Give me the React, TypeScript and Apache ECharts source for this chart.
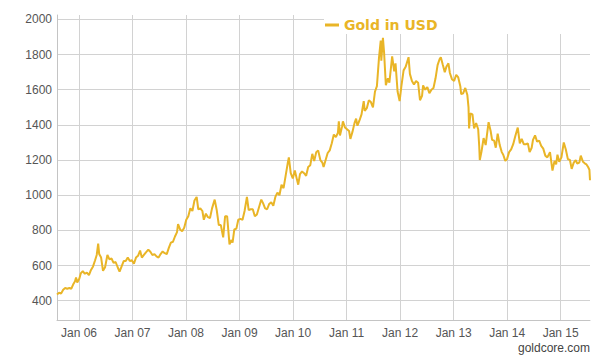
import React, { useEffect, useRef } from 'react';
import * as echarts from 'echarts';

const seriesName = 'Gold in USD';
const sourceText = 'goldcore.com';
const axisStart = [2005, 7, 4];
const axisEnd = [2015, 6, 20];
const yMin = 290;
const yMax = 2025;
const yLabelStep = 200;

const dates = [
  '2005-08-04','2005-08-18','2005-09-01','2005-09-15','2005-09-29','2005-10-13','2005-10-27','2005-11-10','2005-11-24','2005-12-05','2005-12-12','2005-12-20',
  '2006-01-03','2006-01-13','2006-01-27','2006-02-10','2006-02-24','2006-03-10','2006-03-24','2006-04-07','2006-04-21','2006-05-02','2006-05-12','2006-05-19','2006-06-01','2006-06-14','2006-06-28','2006-07-14','2006-07-28','2006-08-11','2006-08-25','2006-09-08','2006-09-22','2006-10-05','2006-10-19','2006-11-02','2006-11-16','2006-11-30','2006-12-14','2006-12-28',
  '2007-01-11','2007-01-25','2007-02-08','2007-02-22','2007-03-06','2007-03-20','2007-04-03','2007-04-19','2007-05-03','2007-05-17','2007-05-31','2007-06-14','2007-06-28','2007-07-12','2007-07-26','2007-08-09','2007-08-23','2007-09-06','2007-09-20','2007-10-04','2007-10-18','2007-11-01','2007-11-08','2007-11-22','2007-12-06','2007-12-20',
  '2008-01-03','2008-01-17','2008-01-31','2008-02-14','2008-02-28','2008-03-14','2008-03-25','2008-04-08','2008-04-22','2008-05-02','2008-05-16','2008-05-30','2008-06-13','2008-06-27','2008-07-15','2008-07-29','2008-08-12','2008-08-26','2008-09-11','2008-09-24','2008-10-08','2008-10-16','2008-10-24','2008-11-07','2008-11-14','2008-11-26','2008-12-10','2008-12-23',
  '2009-01-07','2009-01-21','2009-02-04','2009-02-20','2009-03-04','2009-03-18','2009-04-01','2009-04-15','2009-04-29','2009-05-13','2009-05-29','2009-06-10','2009-06-24','2009-07-08','2009-07-22','2009-08-05','2009-08-19','2009-09-02','2009-09-16','2009-09-30','2009-10-14','2009-10-28','2009-11-11','2009-11-25','2009-12-03','2009-12-16','2009-12-30',
  '2010-01-13','2010-01-27','2010-02-05','2010-02-17','2010-03-03','2010-03-17','2010-03-31','2010-04-14','2010-04-28','2010-05-12','2010-05-25','2010-06-08','2010-06-21','2010-07-06','2010-07-20','2010-07-28','2010-08-11','2010-08-25','2010-09-08','2010-09-22','2010-10-06','2010-10-20','2010-11-03','2010-11-09','2010-11-17','2010-12-01','2010-12-07','2010-12-21',
  '2011-01-04','2011-01-18','2011-01-27','2011-02-10','2011-02-24','2011-03-07','2011-03-16','2011-03-30','2011-04-13','2011-04-28','2011-05-05','2011-05-19','2011-06-02','2011-06-16','2011-06-30','2011-07-14','2011-07-27','2011-08-10','2011-08-22','2011-08-26','2011-09-06','2011-09-14','2011-09-26','2011-10-10','2011-10-20','2011-11-08','2011-11-22','2011-12-01','2011-12-15','2011-12-29',
  '2012-01-10','2012-01-25','2012-02-08','2012-02-28','2012-03-08','2012-03-22','2012-04-05','2012-04-19','2012-05-03','2012-05-16','2012-05-30','2012-06-06','2012-06-20','2012-07-05','2012-07-19','2012-08-02','2012-08-16','2012-08-30','2012-09-13','2012-09-27','2012-10-05','2012-10-19','2012-11-01','2012-11-12','2012-11-26','2012-12-06','2012-12-20',
  '2013-01-04','2013-01-18','2013-02-01','2013-02-15','2013-02-21','2013-03-07','2013-03-21','2013-04-04','2013-04-12','2013-04-16','2013-04-25','2013-05-09','2013-05-20','2013-06-03','2013-06-17','2013-06-24','2013-06-28','2013-07-10','2013-07-24','2013-08-07','2013-08-27','2013-09-10','2013-09-20','2013-10-04','2013-10-15','2013-10-28','2013-11-11','2013-11-25','2013-12-05','2013-12-19','2013-12-31',
  '2014-01-14','2014-01-28','2014-02-11','2014-02-25','2014-03-14','2014-03-28','2014-04-10','2014-04-24','2014-05-08','2014-05-22','2014-06-03','2014-06-17','2014-06-26','2014-07-10','2014-07-24','2014-08-07','2014-08-21','2014-09-04','2014-09-18','2014-10-02','2014-10-20','2014-11-06','2014-11-20','2014-12-01','2014-12-10','2014-12-22',
  '2015-01-06','2015-01-22','2015-02-05','2015-02-19','2015-03-05','2015-03-17','2015-03-31','2015-04-14','2015-04-24','2015-05-08','2015-05-18','2015-06-02','2015-06-16','2015-06-26','2015-07-07','2015-07-16','2015-07-20'
];

const prices = [
  435,445,440,462,472,468,472,468,495,510,532,503,
  525,555,568,553,560,545,575,595,630,660,725,665,645,570,590,660,635,640,615,620,590,565,595,625,625,645,625,630,
  610,645,655,685,645,660,675,690,678,660,665,652,645,665,680,670,665,700,730,735,765,790,835,805,795,815,
  860,880,925,910,970,990,920,925,910,860,895,875,870,925,975,915,830,830,760,880,880,800,720,745,730,805,810,860,
  865,860,910,990,915,920,920,880,890,930,975,955,925,920,950,960,940,990,1015,1000,1060,1040,1110,1180,1215,1125,1095,
  1140,1090,1060,1120,1135,1125,1110,1160,1170,1235,1195,1245,1255,1200,1185,1160,1200,1240,1255,1295,1345,1330,1355,1420,1340,1390,1420,1385,
  1375,1365,1320,1360,1410,1435,1395,1425,1460,1535,1480,1495,1540,1530,1500,1590,1620,1780,1880,1765,1895,1810,1625,1665,1640,1790,1705,1750,1590,1535,
  1620,1710,1730,1785,1690,1650,1630,1650,1640,1540,1565,1625,1600,1615,1580,1600,1610,1665,1740,1775,1785,1740,1700,1730,1750,1695,1660,
  1650,1685,1670,1620,1575,1580,1610,1570,1500,1380,1465,1460,1380,1410,1375,1280,1200,1250,1325,1285,1415,1365,1315,1310,1270,1350,1285,1245,1230,1195,1205,
  1245,1260,1290,1335,1385,1295,1320,1290,1290,1295,1245,1270,1315,1340,1305,1310,1280,1265,1225,1215,1245,1140,1195,1175,1230,1190,
  1215,1300,1260,1205,1200,1150,1185,1200,1180,1185,1225,1190,1180,1175,1160,1145,1085
];

export default function App() {
  const ref = useRef<HTMLDivElement>(null);
  useEffect(() => {
    if (!ref.current) return;
    const chart = echarts.init(ref.current, null, { renderer: 'svg' });
    const gold = '#E9B527';
    const gridColor = '#d2d2d2';
    const axisColor = '#c4c4c4';
    const textColor = '#555555';
    const font = 'Liberation Sans';
    const yStep = 10;
    const cycle = yLabelStep / yStep;
    const firstIdx = (Math.ceil(yMin / yLabelStep) * yLabelStep - yMin) / yStep;
    const yGridColors = Array.from({ length: cycle }, (_, i) => (i === firstIdx % cycle ? gridColor : 'rgba(0,0,0,0)'));
    const minT = new Date(axisStart[0], axisStart[1], axisStart[2]).getTime();
    const maxT = new Date(axisEnd[0], axisEnd[1], axisEnd[2]).getTime();
    const day = 86400000;

    chart.setOption({
      animation: false,
      backgroundColor: '#ffffff',
      grid: { left: 57, right: 17, top: 15, bottom: 41 },
      legend: {
        show: true,
        data: [seriesName],
        left: 325,
        top: 18,
        padding: 0,
        icon: 'rect',
        itemWidth: 14,
        itemHeight: 3,
        textStyle: { color: gold, fontSize: 14, fontWeight: 'bold', fontFamily: 'DejaVu Sans' },
      },
      xAxis: {
        type: 'time',
        min: minT,
        max: maxT,
        minInterval: 365 * day,
        maxInterval: 366 * day,
        axisLine: { show: true, lineStyle: { color: axisColor } },
        axisTick: { show: false },
        splitLine: { show: true, showMaxLine: false, lineStyle: { color: gridColor, width: 1 } },
        axisLabel: {
          color: textColor,
          fontSize: 12,
          fontFamily: font,
          margin: 7,
          formatter: (value: number) => {
            const d = new Date(value);
            if (d.getMonth() === 0 && d.getDate() === 1) {
              return 'Jan ' + String(d.getFullYear()).slice(2);
            }
            return '';
          },
        },
      },
      yAxis: {
        type: 'value',
        min: yMin,
        max: yMax,
        interval: yStep,
        axisLine: { show: true, lineStyle: { color: axisColor } },
        axisTick: { show: false },
        splitLine: { show: true, lineStyle: { color: yGridColors, width: 1 } },
        axisLabel: {
          color: textColor,
          fontSize: 12,
          fontFamily: font,
          margin: 5,
          formatter: (v: number) => {
            const r = Math.round(v);
            return r % yLabelStep === 0 ? String(r) : '';
          },
        },
      },
      graphic: [
        {
          type: 'rect',
          left: 324,
          top: 6,
          z: 1,
          silent: true,
          shape: { width: 266, height: 28 },
          style: { fill: '#ffffff' },
        },
        {
          type: 'text',
          right: 17,
          top: 342,
          z: 5,
          style: { text: sourceText, fill: '#444444', font: '12px "Liberation Sans"' },
        },
      ],
      series: [
        {
          name: seriesName,
          type: 'line',
          showSymbol: false,
          symbol: 'none',
          color: gold,
          lineStyle: { color: gold, width: 2 },
          data: dates.map((d, i) => [d, prices[i]]),
        },
      ],
    });
    return () => chart.dispose();
  }, []);
  return <div ref={ref} style={{ position: 'fixed', left: 0, top: 0, width: 607, height: 361 }} />;
}
